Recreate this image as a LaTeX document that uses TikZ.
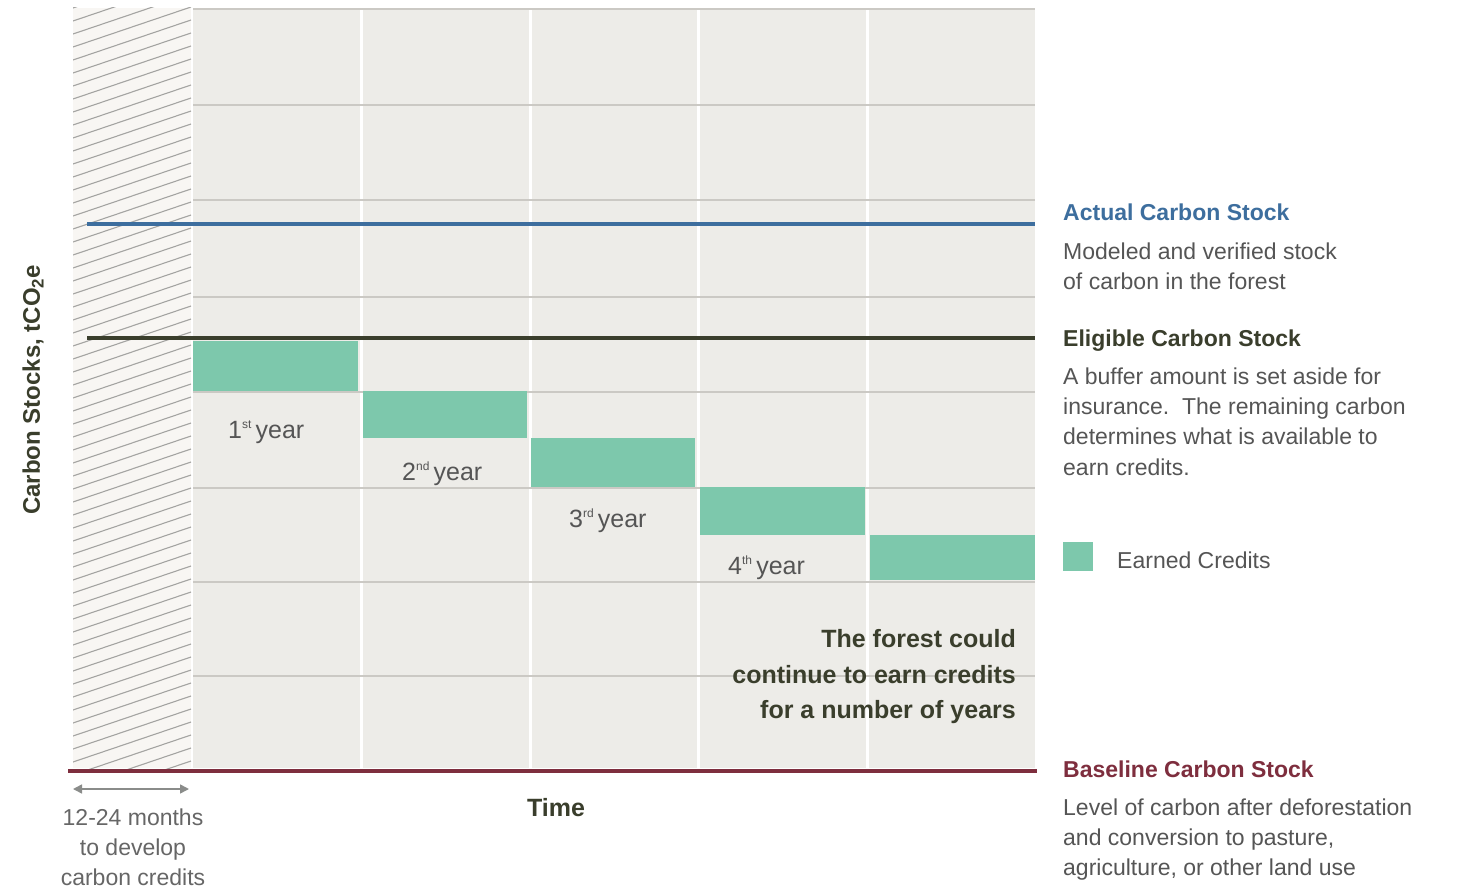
\documentclass[tikz,border=0pt]{standalone}
\usepackage{fontspec}
\setmainfont{Liberation Sans}
\usetikzlibrary{arrows.meta}
\definecolor{plotbg}{HTML}{EDECE8}
\definecolor{hatchbg}{HTML}{F8F6F3}
\definecolor{hatchln}{HTML}{A4A4A2}
\definecolor{gridln}{HTML}{CBC9C4}
\definecolor{credit}{HTML}{7DC8AC}
\definecolor{actblue}{HTML}{3D6E9E}
\definecolor{eligdark}{HTML}{3A3E2C}
\definecolor{basered}{HTML}{7E2E3E}
\definecolor{bodygray}{HTML}{555555}
\definecolor{arrowgray}{HTML}{8A8C8A}
\newcommand{\ordsup}[1]{\raisebox{0.75ex}{\fontsize{12}{12}\selectfont #1}}
\tikzset{
  body/.style={font=\fontsize{23}{30}\selectfont, text=bodygray, inner sep=0pt, anchor=base west},
  head/.style={font=\fontsize{23}{30}\selectfont\bfseries, inner sep=0pt, anchor=base west},
  yearlbl/.style={font=\fontsize{25}{30}\selectfont, text=bodygray, inner sep=0pt, anchor=base west},
  forest/.style={font=\fontsize{25}{30}\selectfont\bfseries, text=eligdark, inner sep=0pt, anchor=base east},
  dev/.style={font=\fontsize{23}{30}\selectfont, text=bodygray!90, inner sep=0pt, anchor=base},
  stockline/.style={line width=4pt},
  gridline/.style={draw=gridln, line width=1.6pt},
  hatchline/.style={draw=hatchln, line width=1.1pt},
  creditbox/.style={fill=credit},
}
\begin{document}
\begin{tikzpicture}[x=1pt,y=-1pt]
\useasboundingbox[fill=white] (0,0) rectangle (1457,888);
% hatched development period
\fill[hatchbg] (73,8) rectangle (191,768);
\begin{scope}
\clip (73,8) rectangle (191,768);
\foreach \k in {0,...,64} \draw[hatchline] (73,8+\k*13) -- (191,8+\k*13-40);
\end{scope}
% plot area
\fill[plotbg] (193,8) rectangle (1035,768);
\foreach \x in {361,530,698,867} \draw[white, line width=3pt] (\x,8) -- (\x,768);
\foreach \y in {9,105,200,297,392,488,582,676} \draw[gridline] (193,\y) -- (1035,\y);
% earned credits
\fill[creditbox] (193,341) rectangle (358,391);
\fill[creditbox] (363,391) rectangle (527,438);
\fill[creditbox] (531,438) rectangle (695,487);
\fill[creditbox] (700,487) rectangle (865,535);
\fill[creditbox] (870,535) rectangle (1035,580);
% stock lines
\coordinate (actL) at (87,224); \coordinate (actR) at (1035,224);
\coordinate (eliL) at (87,338); \coordinate (eliR) at (1035,338);
\coordinate (basL) at (68,771); \coordinate (basR) at (1037,771);
\draw[stockline, actblue] (actL) -- (actR);
\draw[stockline, eligdark] (eliL) -- (eliR);
\draw[stockline, basered] (basL) -- (basR);
% year labels
\node[yearlbl] (y1) at (228,438) {1\ordsup{st}\,year};
\node[yearlbl] (y2) at (402,480) {2\ordsup{nd}\,year};
\node[yearlbl] (y3) at (569,527) {3\ordsup{rd}\,year};
\node[yearlbl] (y4) at (728,574) {4\ordsup{th}\,year};
% forest note
\node[forest] (f1) at (1016,647) {The forest could};
\node[forest] (f2) at (1016,683) {continue to earn credits};
\node[forest] (f3) at (1016,718) {for a number of years};
% axis labels
\node[font=\fontsize{24}{28}\selectfont\bfseries, text=eligdark, rotate=90, inner sep=0pt] (ylab) at (33,390) {Carbon Stocks, tCO\textsubscript{2}e};
\node[font=\fontsize{25}{30}\selectfont\bfseries, text=eligdark, inner sep=0pt] (time) at (556,808) {Time};
% development arrow
\coordinate (devL) at (73,789); \coordinate (devR) at (189,789);
\draw[arrowgray, line width=1.6pt, {Triangle[length=9pt,width=9pt]}-{Triangle[length=9pt,width=9pt]}] (devL) -- (devR);
\node[dev] (d1) at (133,825) {12-24 months};
\node[dev] (d2) at (133,855) {to develop};
\node[dev] (d3) at (133,885) {carbon credits};
% right column
\node[head, text=actblue] (acth) at (1063,220) {Actual Carbon Stock};
\node[body] (act1) at (1063,259) {Modeled and verified stock};
\node[body] (act2) at (1063,289) {of carbon in the forest};
\node[head, text=eligdark] (elih) at (1063,346) {Eligible Carbon Stock};
\node[body] (eli1) at (1063,384) {A buffer amount is set aside for};
\node[body] (eli2) at (1063,414) {insurance.\ \ The remaining carbon};
\node[body] (eli3) at (1063,444) {determines what is available to};
\node[body] (eli4) at (1063,475) {earn credits.};
\fill[creditbox] (1063,542) rectangle (1093,571);
\node[body] (legend) at (1117,568) {Earned Credits};
\node[head, text=basered] (bash) at (1063,777) {Baseline Carbon Stock};
\node[body] (bas1) at (1063,815) {Level of carbon after deforestation};
\node[body] (bas2) at (1063,845) {and conversion to pasture,};
\node[body] (bas3) at (1063,875) {agriculture, or other land use};
\end{tikzpicture}
\end{document}
